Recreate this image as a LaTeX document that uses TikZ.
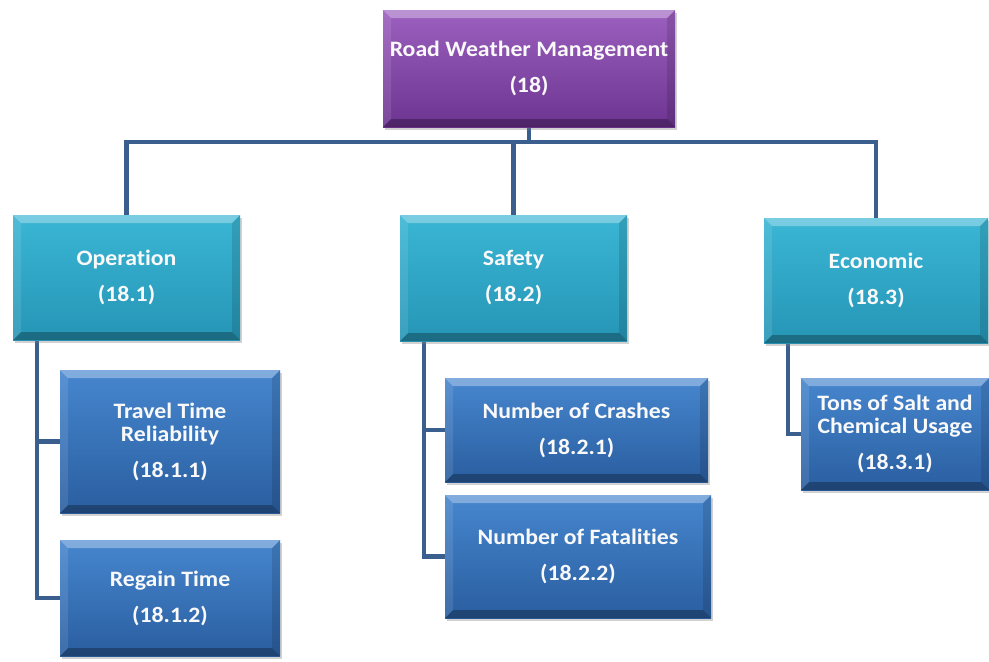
\documentclass[tikz,border=0pt]{standalone}
\usepackage{fontspec}
\setmainfont{Carlito}[FakeStretch=1.08, Ligatures=NoCommon]
\usetikzlibrary{shadows,backgrounds}
\definecolor{purpT}{HTML}{9C60BF}
\definecolor{purpB}{HTML}{6C3490}
\definecolor{tealT}{HTML}{3AB6D4}
\definecolor{tealB}{HTML}{2695B6}
\definecolor{blueT}{HTML}{4686CE}
\definecolor{blueB}{HTML}{2A5EA0}
\definecolor{conn}{HTML}{3A5F8E}
\tikzset{
  x=0.75pt, y=-0.75pt,
  bevel/.style={path picture={
    \fill[white,opacity=0.32] (path picture bounding box.north west) -- (path picture bounding box.north east)
      -- ([shift={(-6pt,-6pt)}]path picture bounding box.north east) -- ([shift={(6pt,-6pt)}]path picture bounding box.north west) -- cycle;
    \fill[black,opacity=0.28] (path picture bounding box.south west) -- (path picture bounding box.south east)
      -- ([shift={(-6pt,6pt)}]path picture bounding box.south east) -- ([shift={(6pt,6pt)}]path picture bounding box.south west) -- cycle;
    \fill[black,opacity=0.12] (path picture bounding box.north east) -- (path picture bounding box.south east)
      -- ([shift={(-6pt,6pt)}]path picture bounding box.south east) -- ([shift={(-6pt,-6pt)}]path picture bounding box.north east) -- cycle;
    \fill[white,opacity=0.10] (path picture bounding box.north west) -- (path picture bounding box.south west)
      -- ([shift={(6pt,6pt)}]path picture bounding box.south west) -- ([shift={(6pt,-6pt)}]path picture bounding box.north west) -- cycle;
  }},
  box/.style={rectangle, inner sep=0pt, align=center, text=white!95!gray,
    font=\bfseries\fontsize{16.5}{17.25}\selectfont,
    drop shadow={shadow xshift=1.5pt, shadow yshift=-2.5pt, opacity=0.35},
    bevel},
  sz/.style 2 args={minimum width=#1*0.75pt, minimum height=#2*0.75pt},
  rootbox/.style={box, top color=purpT, bottom color=purpB},
  catbox/.style={box, top color=tealT, bottom color=tealB},
  leafbox/.style={box, top color=blueT, bottom color=blueB},
  link/.style={draw=conn, line width=3.2pt}
}
\begin{document}
\begin{tikzpicture}
\begin{scope}[on background layer]
  \fill[white] (0,0) rectangle (989,661);
\end{scope}
\useasboundingbox (0,0) rectangle (989,661);

\node[rootbox, sz={292}{117}] (root) at (529,68.5) {Road Weather Management\\[9.75pt](18)};

\node[catbox, sz={227}{125}] (op)  at (126.5,277.5) {Operation\\[9.75pt](18.1)};
\node[catbox, sz={227}{126}] (saf) at (513.5,278) {Safety\\[9.75pt](18.2)};
\node[catbox, sz={224}{125}] (eco) at (876,280.5) {Economic\\[9.75pt](18.3)};

\node[leafbox, sz={220}{143}] (tr)  at (170,441.5) {Travel Time\\Reliability\\[9.75pt](18.1.1)};
\node[leafbox, sz={220}{116}] (rg)  at (170,598) {Regain Time\\[9.75pt](18.1.2)};
\node[leafbox, sz={263}{104}] (cr)  at (576.5,430) {Number of Crashes\\[9.75pt](18.2.1)};
\node[leafbox, sz={266}{123}] (fa)  at (578,556.5) {Number of Fatalities\\[9.75pt](18.2.2)};
\node[leafbox, sz={188}{112}] (tons) at (895,434) {Tons of Salt and\\Chemical Usage\\[9.75pt](18.3.1)};

\coordinate (bus) at (529,142);
\coordinate (opd) at (37,340);
\coordinate (sfd) at (424,341);
\coordinate (ecd) at (788,343);

\begin{scope}[on background layer]
  \draw[link] (root.south) -- (root.south |- bus) -| (op.north);
  \draw[link] (root.south) -- (root.south |- bus) -| (saf.north);
  \draw[link] (root.south) -- (root.south |- bus) -| (eco.north);
  \draw[link] (opd) |- (tr.west);
  \draw[link] (opd) |- (rg.west);
  \draw[link] (sfd) |- (cr.west);
  \draw[link] (sfd) |- (fa.west);
  \draw[link] (ecd) |- (tons.west);
\end{scope}
\end{tikzpicture}
\end{document}
